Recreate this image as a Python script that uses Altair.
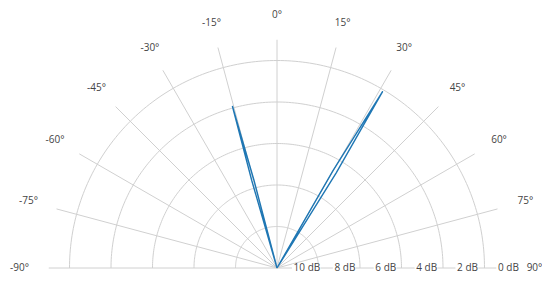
import altair as alt
import numpy as np
import pandas as pd

# ---- data ----
angle_ticks = list(range(-90, 91, 15))          # angular axis ticks (deg)
ring_radii = [2, 4, 6, 8, 10]                   # radial grid rings (units)
outer_r = 11                                    # radial extent
db_ticks = [10, 8, 6, 4, 2, 0]                  # radial tick labels (dB)

lobe_a_angle = [-15.4, -16.1, -15.4, -14.7, -15.4]
lobe_a_r = [0, 4.4, 8.1, 4.4, 0]
lobe_b_angle = [30.9, 29.9, 30.9, 31.9, 30.9]
lobe_b_r = [0, 5.4, 9.92, 5.4, 0]

# ---- geometry helpers ----
U = 20.75  # px per radial unit
W, H = 534, 267
cx, cy = 269, 260
xdom = [-cx / U, (W - cx) / U]
ydom = [-(H - cy) / U, cy / U]
xs = alt.Scale(domain=xdom, nice=False, zero=False)
ys = alt.Scale(domain=ydom, nice=False, zero=False)


def pol(r, a):
    t = np.radians(a)
    return r * np.sin(t), r * np.cos(t)


# rings
rows = []
arc = np.linspace(-90, 90, 181)
for rr in ring_radii:
    for i, a in enumerate(arc):
        x, y = pol(rr, a)
        rows.append({"ring": rr, "i": i, "x": x, "y": y})
rings = pd.DataFrame(rows)

# spokes
spk = []
for a in angle_ticks:
    x, y = pol(outer_r, a)
    spk.append({"x": 0.0, "y": 0.0, "x2": x, "y2": y})
spokes = pd.DataFrame(spk)

# angle labels
al = []
for a in angle_ticks:
    rpx = 253 + 4.5 * np.sin(np.radians(a)) ** 2
    x, y = pol(rpx / U, a)
    al.append({"x": x, "y": y, "t": f"{a}°"})
alabels = pd.DataFrame(al)

# radial labels
lx = [10.65 - 0.985 * d for d in db_ticks]
lw = [(5.7 * len(str(d)) + 15.5) / U for d in db_ticks]
rl = pd.DataFrame({"x": lx, "y": [0.0] * len(db_ticks),
                   "t": [f"{d} dB" for d in db_ticks]})
bg = pd.DataFrame({"x": [v - 0.08 for v in lx], "x2": [v + w for v, w in zip(lx, lw)],
                   "y": [-0.18] * len(lx), "y2": [0.18] * len(lx)})

# lobes
lr = []
for name, angs, rads in [("a", lobe_a_angle, lobe_a_r), ("b", lobe_b_angle, lobe_b_r)]:
    for i, (a, r) in enumerate(zip(angs, rads)):
        x, y = pol(r, a)
        lr.append({"lobe": name, "i": i, "x": x, "y": y})
lobes = pd.DataFrame(lr)

grid_col = "#d0d0d0"
txt_col = "#444444"
font = "Open Sans"

X = lambda: alt.X("x:Q", scale=xs, axis=None)
Y = lambda: alt.Y("y:Q", scale=ys, axis=None)

ring_layer = alt.Chart(rings).mark_line(color=grid_col, strokeWidth=1).encode(
    x=X(), y=Y(), detail="ring:N", order="i:Q")
spoke_layer = alt.Chart(spokes).mark_rule(color=grid_col, strokeWidth=1).encode(
    x=X(), y=Y(), x2="x2:Q", y2="y2:Q")
lobe_layer = alt.Chart(lobes).mark_line(color="#1f77b4", strokeWidth=1.4).encode(
    x=X(), y=Y(), detail="lobe:N", order="i:Q")
alab_layer = alt.Chart(alabels).mark_text(font=font, fontSize=10, color=txt_col,
                                           align="center", baseline="middle").encode(
    x=X(), y=Y(), text="t:N")
bg_layer = alt.Chart(bg).mark_rect(color="white").encode(
    x=X(), y=Y(), x2="x2:Q", y2="y2:Q")
rlab_layer = alt.Chart(rl).mark_text(font=font, fontSize=10, color=txt_col,
                                      align="left", baseline="middle").encode(
    x=X(), y=Y(), text="t:N")

chart = alt.layer(ring_layer, spoke_layer, lobe_layer, bg_layer, rlab_layer, alab_layer).properties(
    width=W, height=H, padding=0, autosize=alt.AutoSizeParams(type="none"),
    background="white"
).configure_view(stroke=None)

chart.save("out.html", embed_options={"renderer": "svg", "actions": False})
